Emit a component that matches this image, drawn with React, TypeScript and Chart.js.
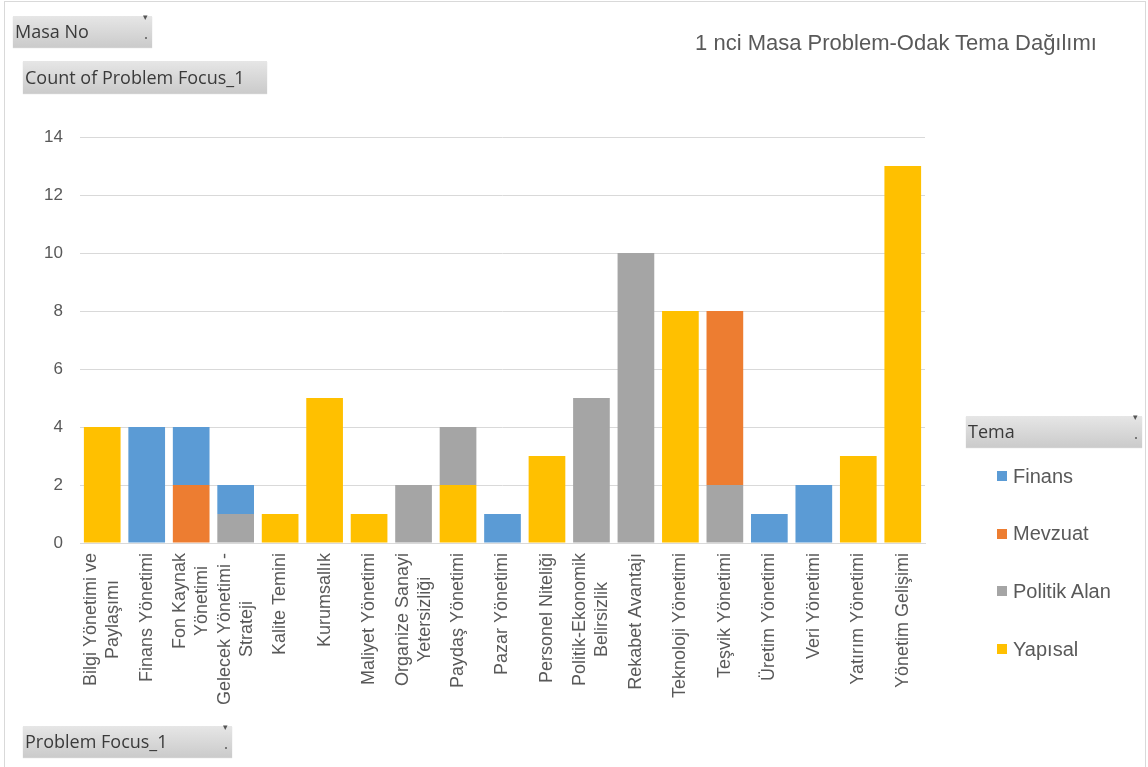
import React, { useEffect, useRef } from "react";
import { Chart, registerables } from "chart.js";

Chart.register(...registerables);

// Categories (Problem Focus_1), multi-line labels as drawn under the axis
const categories: (string | string[])[] = [
  ["Bilgi Yönetimi ve", "Paylaşımı"],
  "Finans Yönetimi",
  ["Fon Kaynak", "Yönetimi"],
  ["Gelecek Yönetimi -", "Strateji"],
  "Kalite Temini",
  "Kurumsallık",
  "Maliyet Yönetimi",
  ["Organize Sanayi", "Yetersizliği"],
  "Paydaş Yönetimi",
  "Pazar Yönetimi",
  "Personel Niteliği",
  ["Politik-Ekonomik", "Belirsizlik"],
  "Rekabet Avantajı",
  "Teknoloji Yönetimi",
  "Teşvik Yönetimi",
  "Üretim Yönetimi",
  "Veri Yönetimi",
  "Yatırım Yönetimi",
  "Yönetim Gelişimi",
];

// Count of Problem Focus_1 per Tema
const finans = [0, 4, 2, 1, 0, 0, 0, 0, 0, 1, 0, 0, 0, 0, 0, 1, 2, 0, 0];
const mevzuat = [0, 0, 2, 0, 0, 0, 0, 0, 0, 0, 0, 0, 0, 0, 6, 0, 0, 0, 0];
const politikAlan = [0, 0, 0, 1, 0, 0, 0, 2, 2, 0, 0, 5, 10, 0, 2, 0, 0, 0, 0];
const yapisal = [4, 0, 0, 0, 1, 5, 1, 0, 2, 0, 3, 0, 0, 8, 0, 0, 0, 3, 13];

const yTicks = [0, 2, 4, 6, 8, 10, 12, 14];

const title = "1 nci Masa Problem-Odak Tema Dağılımı";

// Series in legend order; stacking runs from the last one upward
const series = [
  { name: "Finans", data: finans, color: "#5B9BD5" },
  { name: "Mevzuat", data: mevzuat, color: "#ED7D31" },
  { name: "Politik Alan", data: politikAlan, color: "#A5A5A5" },
  { name: "Yapısal", data: yapisal, color: "#FFC000" },
];

const TEXT = "#595959";
const GRID = "#d9d9d9";
const SANS = "'Liberation Sans', Arial, sans-serif";
const UI = "'Open Sans', 'Noto Sans', sans-serif";

// Vertical category labels: block starts just under the axis, lines centred
// on each other, and the block centred on its bar
const categoryLabels = {
  id: "categoryLabels",
  afterDraw(chart: any) {
    const xScale = chart.scales.x;
    const ctx = chart.ctx;
    const lineHeight = 22;
    ctx.save();
    ctx.fillStyle = TEXT;
    ctx.font = `18px ${SANS}`;
    ctx.textAlign = "center";
    ctx.textBaseline = "middle";
    categories.forEach((label, i) => {
      const lines = Array.isArray(label) ? label : [label];
      const maxW = Math.max(...lines.map((l) => ctx.measureText(l).width));
      const x = xScale.getPixelForValue(i);
      ctx.save();
      ctx.translate(x, xScale.top + 10);
      ctx.rotate(-Math.PI / 2);
      lines.forEach((line, j) => {
        ctx.fillText(line, -maxW / 2, (j - (lines.length - 1) / 2) * lineHeight);
      });
      ctx.restore();
    });
    ctx.restore();
  },
};

const fieldButton = (
  label: string,
  left: number,
  top: number,
  width: number,
  height: number,
  withFilter: boolean
) => (
  <div
    style={{
      position: "absolute",
      left,
      top,
      width,
      height,
      boxSizing: "border-box",
      background: "linear-gradient(#e6e6e6, #cbcbcb)",
      boxShadow: "0 1px 1px rgba(0,0,0,0.18)",
      fontFamily: UI,
      fontSize: 18,
      color: "#3a3a3a",
      lineHeight: `${height}px`,
      paddingLeft: 2,
      whiteSpace: "nowrap",
    }}
  >
    {label}
    {withFilter && (
      <span
        style={{
          position: "absolute",
          right: 4,
          top: -9,
          fontSize: 9,
          color: "#555",
          lineHeight: "20px",
        }}
      >
        ▾
      </span>
    )}
    {withFilter && (
      <span
        style={{
          position: "absolute",
          right: 5,
          bottom: 8,
          width: 2,
          height: 2,
          background: "#777",
        }}
      />
    )}
  </div>
);

export default function App() {
  const canvasRef = useRef<HTMLCanvasElement | null>(null);

  useEffect(() => {
    if (!canvasRef.current) return;
    // Bottom-to-top stacking: Yapısal, Politik Alan, Mevzuat, Finans
    const stackOrder = [...series].reverse();
    const chart = new Chart(canvasRef.current, {
      type: "bar",
      data: {
        labels: categories,
        datasets: stackOrder.map((s) => ({
          label: s.name,
          data: s.data,
          backgroundColor: s.color,
          borderWidth: 0,
          barPercentage: 0.825,
          categoryPercentage: 1,
        })),
      },
      options: {
        animation: false,
        responsive: true,
        maintainAspectRatio: false,
        layout: { padding: { left: 0, right: 223, top: 137, bottom: 0 } },
        plugins: {
          legend: { display: false },
          title: { display: false },
          tooltip: { enabled: false },
        },
        scales: {
          x: {
            stacked: true,
            grid: { display: false, drawTicks: false },
            border: { display: true, color: GRID, width: 1 },
            ticks: { display: false },
            afterFit: (scale: any) => {
              scale.height = 224;
            },
          },
          y: {
            stacked: true,
            min: 0,
            max: 14,
            afterBuildTicks: (scale: any) => {
              scale.ticks = yTicks.map((v) => ({ value: v }));
            },
            grid: { color: GRID, lineWidth: 1, drawTicks: false },
            border: { display: false },
            ticks: {
              padding: 17,
              color: TEXT,
              font: { family: SANS, size: 17 },
            },
            afterFit: (scale: any) => {
              scale.width = 80;
            },
          },
        },
      },
      plugins: [categoryLabels],
    });
    return () => chart.destroy();
  }, []);

  return (
    <div
      style={{
        position: "fixed",
        left: 0,
        top: 0,
        width: 1148,
        height: 767,
        background: "#fff",
        overflow: "hidden",
      }}
    >
      <div
        style={{
          position: "absolute",
          left: 4,
          top: 1,
          width: 1142,
          height: 800,
          border: `1px solid ${GRID}`,
          boxSizing: "border-box",
        }}
      />
      <canvas
        ref={canvasRef}
        style={{ position: "absolute", left: 0, top: 0, width: 1148, height: 767 }}
      />
      <div
        style={{
          position: "absolute",
          left: 640,
          width: 512,
          top: 30,
          textAlign: "center",
          fontFamily: SANS,
          fontSize: 22,
          color: TEXT,
          lineHeight: "26px",
        }}
      >
        {title}
      </div>
      {fieldButton("Masa No", 13, 16, 139, 31, true)}
      {fieldButton("Count of Problem Focus_1", 23, 61, 244, 32, false)}
      {fieldButton("Tema", 966, 416, 176, 31, true)}
      {fieldButton("Problem Focus_1", 23, 726, 209, 31, true)}
      {series.map((s, i) => (
        <div
          key={s.name}
          style={{
            position: "absolute",
            left: 997,
            top: 476 + i * 57.7 - 13,
            height: 26,
            display: "flex",
            alignItems: "center",
            fontFamily: SANS,
            fontSize: 20,
            color: TEXT,
            whiteSpace: "nowrap",
          }}
        >
          <span
            style={{
              display: "inline-block",
              width: 10,
              height: 10,
              background: s.color,
              marginRight: 6,
            }}
          />
          {s.name}
        </div>
      ))}
    </div>
  );
}
